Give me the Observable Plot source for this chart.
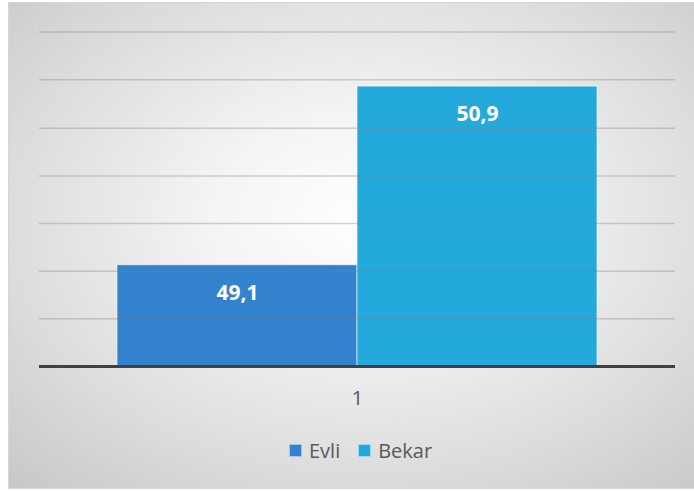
<!DOCTYPE html>
<html>
<head>
<meta charset="utf-8">
<script src="https://cdn.jsdelivr.net/npm/d3@7"></script>
<script src="https://cdn.jsdelivr.net/npm/@observablehq/plot@0.6"></script>
<style>
  html, body { margin: 0; padding: 0; background: #ffffff; }
  #chart {
    position: absolute; left: 8px; top: 2px; width: 686px; height: 487px;
    box-sizing: border-box; border: 1px solid #d6d6d6; border-right: none;
    background: radial-gradient(ellipse 75% 75% at 52% 45%, #ffffff 0%, #f4f4f4 30%, #dcdcdc 70%, #c8c8c8 100%);
    font-family: "Open Sans", sans-serif;
  }
  #plot { position: absolute; left: 0; top: 0; }
  #legend { position: absolute; left: 280px; top: 434px; display: flex; align-items: center; height: 27px; color: #595959; font-size: 20px; }
  .sw { width: 13px; height: 13px; box-sizing: border-box; border: 1px solid rgba(255,255,255,0.55); margin-right: 7px; }
  .item { display: flex; align-items: center; margin-right: 18px; }
</style>
</head>
<body>
<div id="chart">
  <div id="plot"></div>
  <div id="legend"></div>
</div>
<script>
const categories = ["1"];
const series = ["Evli", "Bekar"];
const values = [49.1, 50.9];
const valueLabels = ["49,1", "50,9"];
const colors = ["#3282CE", "#24A9DD"];
const yDomain = [48.08, 51.45];
const gridTicks = [48.56, 49.04, 49.52, 50.0, 50.48, 50.97, 51.45];

const data = series.map((s, i) => ({category: categories[0], series: s, value: values[i], label: valueLabels[i]}));

const chart = Plot.plot({
  width: 685,
  height: 420,
  marginLeft: 30,
  marginRight: 19,
  marginTop: 28.5,
  marginBottom: 57,
  style: {background: "transparent", fontFamily: "Open Sans, sans-serif"},
  fx: {domain: categories, padding: 0, label: null, axis: null},
  x: {domain: series, paddingInner: 0, paddingOuter: 0.325, axis: null},
  y: {domain: yDomain, axis: null},
  color: {domain: series, range: colors},
  marks: [
    Plot.barY(data, {fx: "category", x: "series", y1: yDomain[0], y2: "value", fill: "series", stroke: "#ffffff", strokeOpacity: 0.6, strokeWidth: 1}),
    Plot.ruleY(gridTicks, {stroke: "#808080", strokeOpacity: 0.35, strokeWidth: 1.5}),
    Plot.ruleY([yDomain[0]], {stroke: "#404040", strokeWidth: 3}),
    Plot.text(data, {fx: "category", x: "series", y: "value", text: "label", dy: 28, fill: "#ffffff", fontWeight: "bold", fontSize: 21, lineAnchor: "middle"}),
    Plot.axisFx({anchor: "bottom", tickSize: 0, tickPadding: 24, fontSize: 20, fill: "#595959", label: null})
  ]
});
document.getElementById("plot").appendChild(chart);

const legend = document.getElementById("legend");
series.forEach((s, i) => {
  const item = document.createElement("div");
  item.className = "item";
  const sw = document.createElement("div");
  sw.className = "sw";
  sw.style.background = colors[i];
  const t = document.createElement("span");
  t.textContent = s;
  item.appendChild(sw);
  item.appendChild(t);
  legend.appendChild(item);
});
</script>
</body>
</html>
